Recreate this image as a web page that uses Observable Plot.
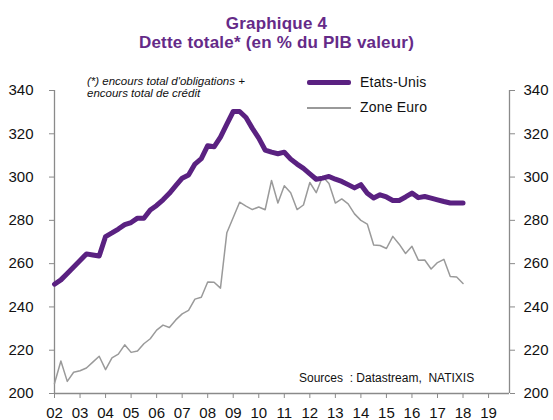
<!DOCTYPE html>
<html>
<head>
<meta charset="utf-8">
<script src="https://cdn.jsdelivr.net/npm/d3@7"></script>
<script src="https://cdn.jsdelivr.net/npm/@observablehq/plot@0.6"></script>
<style>
  html, body { margin: 0; padding: 0; background: #fff; }
  #wrap { position: relative; width: 553px; height: 420px; font-family: "Liberation Sans", Arial, sans-serif; overflow: hidden; }
  .title { position: absolute; left: 0; width: 553px; text-align: center; font-weight: bold; font-size: 17px; line-height: 17px; color: #652a88; letter-spacing: 0.2px; }
  .note { position: absolute; left: 87px; top: 75px; font-style: italic; font-size: 11.5px; line-height: 12px; color: #111; }
  .leg { position: absolute; font-size: 14px; line-height: 16px; color: #111; letter-spacing: 0.2px; }
  .sw { position: absolute; }
  .src { position: absolute; left: 299px; top: 371px; font-size: 12px; line-height: 14px; color: #111; white-space: pre; }
  #chart { position: absolute; left: 0; top: 55px; }
</style>
</head>
<body>
<div id="wrap">
  <div class="title" style="top:15px">Graphique 4</div>
  <div class="title" style="top:34px">Dette totale* (en % du PIB valeur)</div>
  <div id="chart"></div>
  <div class="note">(*) encours total d'obligations +<br>encours total de crédit</div>
  <div class="sw" style="left:307px; top:79.5px; width:44px; height:5px; background:#5a2181; border-radius:2px"></div>
  <div class="leg" style="left:360px; top:74px">Etats-Unis</div>
  <div class="sw" style="left:307px; top:107px; width:44px; height:1.5px; background:#999"></div>
  <div class="leg" style="left:360px; top:99px">Zone Euro</div>
  <div class="src">Sources  : Datastream,  NATIXIS</div>
</div>
<script>
// Quarterly data, first quarter 2002 to first quarter 2018
const startYear = 2002;
const usValues = [
  250.5, 252.5, 255.5, 258.5,
  261.5, 264.5, 264.0, 263.5,
  272.5, 274.2, 276.0, 278.0,
  279.0, 281.0, 281.0, 284.8,
  286.9, 289.5, 292.5, 296.0,
  299.5, 301.0, 306.0, 308.5,
  314.5, 314.0, 318.5, 324.5,
  330.3, 330.3, 327.5, 322.5,
  318.0, 312.5, 311.5, 310.8,
  311.5, 308.3, 306.0, 304.0,
  301.5, 299.0, 299.5, 300.3,
  299.0, 298.0, 296.5, 295.0,
  296.5, 292.5, 290.3, 291.8,
  290.8, 289.2, 289.2, 290.8,
  292.6, 290.5, 291.0, 290.3,
  289.5, 288.7, 288.0, 288.0,
  288.0
];
const euroValues = [
  204.6, 215.0, 205.6, 209.8,
  210.5, 211.8, 214.5, 217.2,
  211.0, 216.5, 218.2, 222.5,
  219.0, 219.6, 223.0, 225.3,
  229.3, 231.6, 230.5, 234.0,
  236.8, 238.4, 243.6, 244.5,
  251.5, 251.4, 248.7, 274.3,
  281.3, 288.4, 286.6, 285.0,
  286.2, 284.9, 298.4, 288.0,
  296.0, 292.8, 285.0, 287.1,
  297.5, 292.8, 300.3, 297.0,
  288.0, 289.9, 287.6, 283.0,
  280.0, 278.3, 268.6, 268.4,
  267.0, 272.6, 269.0, 264.7,
  268.0, 261.6, 261.7, 257.5,
  260.5, 262.0, 254.1, 253.8,
  250.8
];
const yearTicks = [2002, 2003, 2004, 2005, 2006, 2007, 2008, 2009, 2010, 2011, 2012, 2013, 2014, 2015, 2016, 2017, 2018, 2019];
const yTicks = [200, 220, 240, 260, 280, 300, 320, 340];
const xDomain = [2002, 2019.82];
const yDomain = [200, 340];

const quarterOf = (i) => startYear + i * 0.25;
const us = usValues.map((v, i) => ({t: quarterOf(i), v}));
const euro = euroValues.map((v, i) => ({t: quarterOf(i), v}));

const axisGray = "#8a8a8a";
const chart = Plot.plot({
  width: 553,
  height: 365,
  marginTop: 35,
  marginLeft: 54,
  marginRight: 44,
  marginBottom: 27,
  style: {fontSize: "15px", fontFamily: "'Liberation Sans', Arial, sans-serif", color: "#111", background: "#fff"},
  x: {domain: xDomain},
  y: {domain: yDomain},
  marks: [
    Plot.ruleY([yDomain[0]], {stroke: axisGray, strokeWidth: 1.3}),
    Plot.ruleX([xDomain[0]], {stroke: axisGray, strokeWidth: 1.3}),
    Plot.ruleX([xDomain[1]], {stroke: axisGray, strokeWidth: 1.3}),
    Plot.axisY({anchor: "left", ticks: yTicks, tickSize: 5, tickPadding: 16, stroke: axisGray, fill: "#111", label: null}),
    Plot.axisY({anchor: "right", ticks: yTicks, tickSize: 5, tickPadding: 9, stroke: axisGray, fill: "#111", label: null}),
    Plot.axisX({ticks: yearTicks, tickSize: 5, tickPadding: 9, stroke: axisGray, fill: "#111", label: null,
      tickFormat: (d) => String(d % 100).padStart(2, "0")}),
    Plot.lineY(euro, {x: "t", y: "v", stroke: "#9a9a9a", strokeWidth: 1.5}),
    Plot.lineY(us, {x: "t", y: "v", stroke: "#5a2181", strokeWidth: 5, strokeLinejoin: "round", strokeLinecap: "round"})
  ]
});
document.getElementById("chart").appendChild(chart);
</script>
</body>
</html>
